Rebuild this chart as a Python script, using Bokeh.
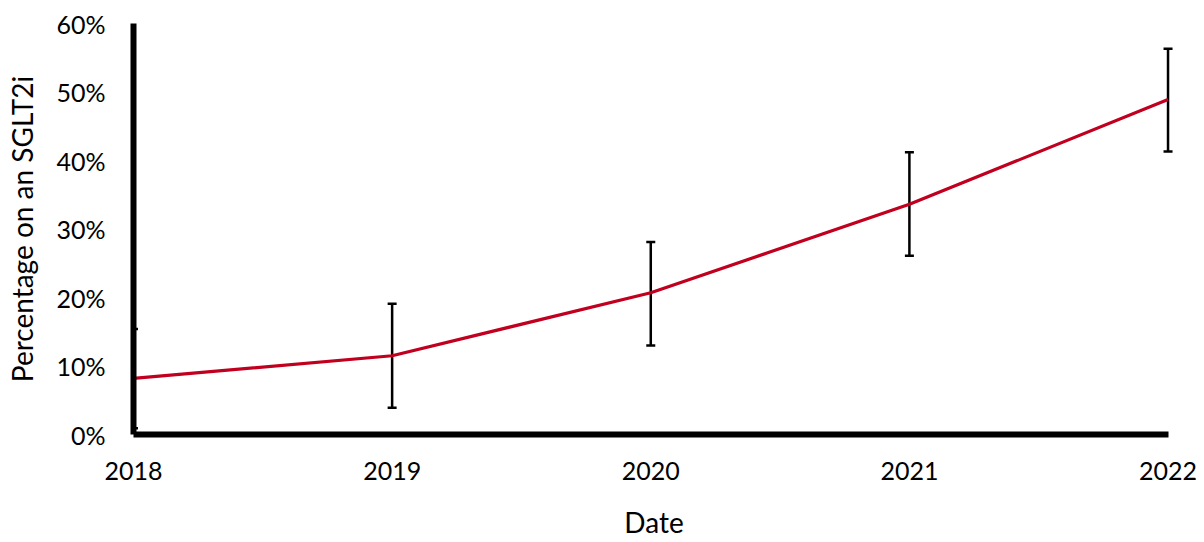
from bokeh.plotting import figure
from bokeh.models import ColumnDataSource, Range1d, FixedTicker, PrintfTickFormatter, Whisker, TeeHead
from bokeh.embed import file_html
from bokeh.resources import INLINE

years = [2018, 2019, 2020, 2021, 2022]
pct = [8.2, 11.5, 20.7, 33.6, 48.9]
lower = [0.9, 3.9, 13.0, 26.1, 41.3]
upper = [15.4, 19.1, 28.1, 41.2, 56.3]
y_ticks = [0, 10, 20, 30, 40, 50, 60]

src = ColumnDataSource(dict(x=years, y=pct, lo=lower, hi=upper))

FONT = "Lato"

p = figure(width=1204, height=542, output_backend="svg", toolbar_location=None,
           x_range=Range1d(2018, 2022.025), y_range=Range1d(0, 60),
           min_border_left=133, min_border_right=30, min_border_top=23, min_border_bottom=108)
p.outline_line_color = None
p.xgrid.grid_line_color = None
p.ygrid.grid_line_color = None
p.background_fill_color = "white"
p.border_fill_color = "white"

w = Whisker(source=src, base="x", lower="lo", upper="hi", line_color="black", line_width=2.5,
            upper_head=TeeHead(size=9, line_color="black", line_width=2.5),
            lower_head=TeeHead(size=9, line_color="black", line_width=2.5))
p.add_layout(w)

p.line("x", "y", source=src, line_color="#C0001E", line_width=3.2)

for ax in (p.xaxis[0], p.yaxis[0]):
    ax.axis_line_width = 6
    ax.axis_line_color = "black"
    ax.major_tick_line_color = None
    ax.minor_tick_line_color = None
    ax.major_tick_out = 0
    ax.major_tick_in = 0
    ax.major_label_text_font = FONT
    ax.major_label_text_font_size = "25px"
    ax.major_label_text_color = "black"
    ax.axis_label_text_font = FONT
    ax.axis_label_text_font_size = "28px"
    ax.axis_label_text_font_style = "normal"
    ax.axis_label_text_color = "black"

p.yaxis.ticker = FixedTicker(ticks=y_ticks)
p.yaxis.formatter = PrintfTickFormatter(format="%d%%")
p.yaxis.major_label_standoff = 28
p.yaxis.axis_label = "Percentage on an SGLT2i"
p.yaxis.axis_label_standoff = 14

p.xaxis.ticker = FixedTicker(ticks=years)
p.xaxis.formatter = PrintfTickFormatter(format="%d")
p.xaxis.bounds = (2018, 2022)
p.xaxis.major_label_standoff = 27
p.xaxis.axis_label = "Date"
p.xaxis.axis_label_standoff = 22

open("out.html", "w").write(file_html(p, INLINE))
